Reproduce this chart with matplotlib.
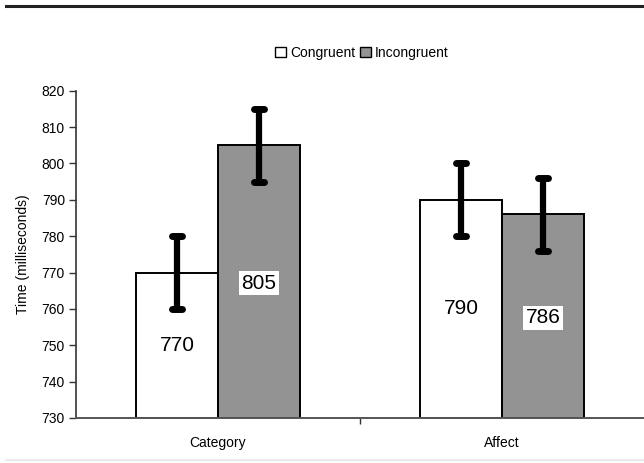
import matplotlib
matplotlib.use("Agg")
import matplotlib.pyplot as plt
from matplotlib.patches import Patch
import numpy as np

plt.rcParams['font.family'] = ['Liberation Sans', 'DejaVu Sans']

categories = ["Category", "Affect"]
series_names = ["Congruent", "Incongruent"]
congruent = [770, 790]
incongruent = [805, 786]
errors_cong = [10, 10]
errors_incong = [10, 10]
label_y_cong = [750, 760]
label_y_incong = [767, 757.5]
yticks = [730, 740, 750, 760, 770, 780, 790, 800, 810, 820]

W, H = 644, 463
fig = plt.figure(figsize=(W / 100, H / 100), dpi=100)
ax = fig.add_axes([76 / W, 1 - 418 / H, 1 - 76 / W, (418 - 90.7) / H])

bw = 0.289
x = np.arange(len(categories)) + 0.5
ymin = 730
colors = ["white", "#939393"]
for vals, errs, lab_y, off, col in [
    (congruent, errors_cong, label_y_cong, -bw / 2, colors[0]),
    (incongruent, errors_incong, label_y_incong, bw / 2, colors[1]),
]:
    xs = x + off
    heights = np.array(vals) - ymin
    ax.bar(xs, heights, bottom=ymin, width=bw, color=col, edgecolor="black",
           linewidth=1.4, zorder=2)
    lo = np.array(vals) - np.array(errs)
    hi = np.array(vals) + np.array(errs)
    vl = ax.vlines(xs, lo, hi, color="black", linewidth=4.5, zorder=3)
    vl.set_capstyle("butt")
    for yy in (lo, hi):
        hl = ax.hlines(yy, xs - 0.018, xs + 0.018, color="black", linewidth=5, zorder=3)
        hl.set_capstyle("round")
    for xi, v, ly in zip(xs, vals, lab_y):
        ax.text(xi, ly, f"{v}", ha="center", va="center", fontsize=15, zorder=4,
                bbox=dict(boxstyle="square,pad=0.12", facecolor="white", edgecolor="none"))

ax.set_xlim(0, 2)
ax.set_ylim(730, 820)
ax.set_yticks(yticks)
ax.set_yticklabels([str(t) for t in yticks], fontsize=10)
ax.set_xticks([1])
ax.set_xticklabels([""])
ax.tick_params(axis="y", direction="out", length=5, width=1, color="#333", pad=3)
ax.tick_params(axis="x", direction="out", length=4, width=1, color="#333")
for xi, c in zip(x, categories):
    ax.text(xi, -0.075, c, transform=ax.get_xaxis_transform(), ha="center", va="center",
            fontsize=10)
for s in ["top", "right"]:
    ax.spines[s].set_visible(False)
ax.spines["left"].set_color("#333")
ax.spines["left"].set_linewidth(1.2)
ax.spines["bottom"].set_color("#555")
ax.spines["bottom"].set_linewidth(1.4)
ax.set_ylabel("Time (milliseconds)", fontsize=10, labelpad=8)

handles = [Patch(facecolor=c, edgecolor="black", linewidth=1) for c in colors]
fig.legend(handles, series_names, loc="center", bbox_to_anchor=(362 / W, 1 - 53 / H),
           ncol=2, frameon=False, fontsize=10, handlelength=0.8, handleheight=0.8,
           handletextpad=0.3, columnspacing=0.3)

fig.add_artist(plt.Line2D([6 / W, 1], [1 - 6 / H, 1 - 6 / H], transform=fig.transFigure,
                          color="#222", linewidth=2.2))
fig.add_artist(plt.Line2D([6 / W, 1], [1 - 460 / H, 1 - 460 / H], transform=fig.transFigure,
                          color="#e6e6e6", linewidth=1.2))

fig.savefig("out.png", dpi=100)
